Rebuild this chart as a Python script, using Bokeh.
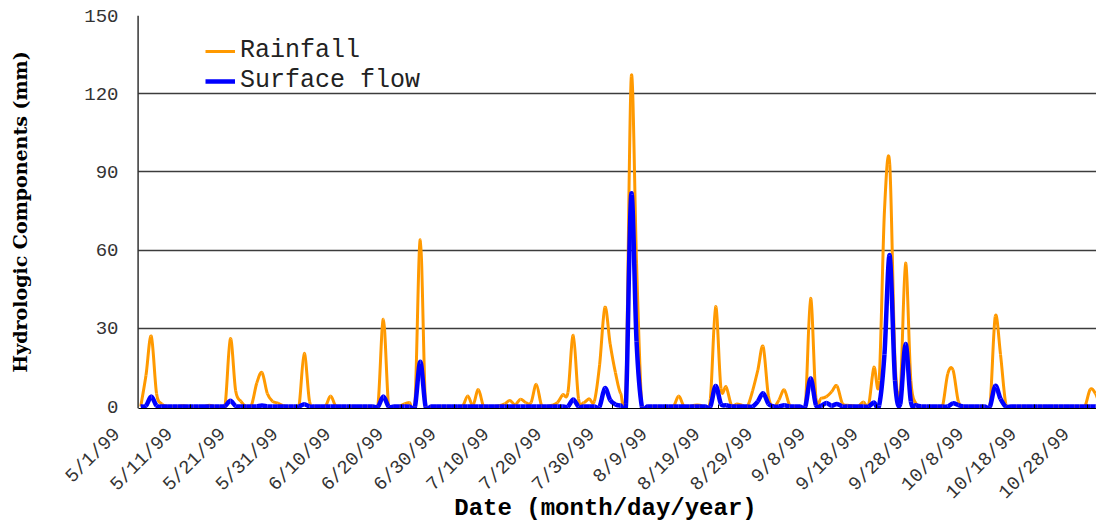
import numpy as np
from math import pi
from bokeh.plotting import figure
from bokeh.models import (LinearAxis, FixedTicker, Range1d, Legend, LegendItem,
                          ColumnDataSource, Span, Grid)
from bokeh.embed import file_html
from bokeh.resources import INLINE

# Daily series, 5/1/99 .. 10/31/99 (one row = 10 days)
rainfall = [
    0, 12, 27, 5, 1, 0, 0, 0, 0.3, 0,
    0, 0, 0, 0.5, 0, 0, 0.5, 26, 6, 2,
    0, 0.5, 9, 13, 5, 2, 1.3, 0.3, 0, 0,
    0, 20.4, 2, 0, 0, 0, 4, 0, 0, 0,
    0, 0, 0, 0, 0, 1, 33.5, 0, 0, 0,
    1, 1.5, 1.5, 64, 0, 0, 0, 0, 0, 0,
    0, 0, 4, 0.5, 6.5, 0, 0, 0, 0.3, 1,
    2.3, 0.7, 2.8, 1.5, 1.5, 8.5, 0.3, 0, 0.5, 1.5,
    4.5, 5.5, 27.3, 3, 1.5, 3, 2, 16, 38, 24,
    13, 5, 8, 126.5, 55, 0, 0, 0, 0, 0,
    0, 0, 4, 0, 0, 0.5, 0.5, 0, 3, 38.3,
    7, 7.5, 0.5, 1, 0.5, 0, 6, 14, 23, 4,
    0, 2.5, 6.4, 0.6, 0, 0, 0, 41.5, 3.5, 3.2,
    3.8, 5.7, 7.9, 1.3, 0.5, 0.3, 0, 1.7, 0.6, 15,
    10, 75, 93, 18, 6, 55, 10, 1, 0, 0,
    0, 0, 0, 12.5, 14, 2, 0, 0, 0, 0,
    0, 0, 34.5, 20, 1, 0, 0, 0, 0, 0,
    0, 0, 0, 0, 0, 0, 0, 0, 0, 0,
    6.5, 5, 0, 0,
]

surface_flow = [
    0, 0.3, 3.8, 0.3, 0, 0, 0, 0, 0, 0,
    0, 0, 0, 0, 0, 0, 0.2, 2.2, 0.2, 0,
    0, 0, 0, 0.4, 0, 0, 0, 0, 0, 0,
    0, 0.9, 0, 0, 0, 0, 0, 0, 0, 0,
    0, 0, 0, 0, 0, 0, 3.8, 0, 0, 0,
    0, 0, 0, 17.2, 0, 0, 0, 0, 0, 0,
    0, 0, 0, 0, 0, 0, 0, 0, 0, 0,
    0, 0, 0, 0, 0, 0, 0, 0, 0, 0,
    0, 0, 2.7, 0, 0, 0, 0, 0, 7, 2.5,
    0.8, 0.4, 1, 81.5, 25, 0, 0, 0, 0, 0,
    0, 0, 0, 0, 0, 0, 0, 0, 0, 7.9,
    1, 0.5, 0, 0, 0, 0, 0, 2, 5.1, 1,
    0, 0, 0.5, 0, 0, 0, 0, 10.8, 0.6, 0.3,
    1.3, 0.3, 1, 0, 0, 0, 0, 0, 0, 1.5,
    0.5, 20, 58, 10, 1, 24, 2, 0.5, 0, 0,
    0, 0, 0, 0, 1.2, 0.5, 0, 0, 0, 0,
    0, 0, 7.9, 3, 0, 0, 0, 0, 0, 0,
    0, 0, 0, 0, 0, 0, 0, 0, 0, 0,
    0, 0, 0, 0,
]

# Date labels, one every 10 days starting 5/1/99
tick_labels = ["5/1/99", "5/11/99", "5/21/99", "5/31/99", "6/10/99", "6/20/99",
               "6/30/99", "7/10/99", "7/20/99", "7/30/99", "8/9/99", "8/19/99",
               "8/29/99", "9/8/99", "9/18/99", "9/28/99", "10/8/99", "10/18/99",
               "10/28/99"]
y_ticks = [0, 30, 60, 90, 120, 150]

day = np.arange(len(rainfall), dtype=float)
first_edge = -0.5          # left edge of the first day's slot (the y axis)
x_end = 181.2
x_start = -4.97            # room left of the axis for the first date label


def smooth_segments(x, y):
    """Cubic Bezier pieces through every point (Catmull-Rom style smoothing)."""
    y = np.asarray(y, dtype=float)
    xp = np.concatenate([[x[0]], x, [x[-1]]])
    yp = np.concatenate([[y[0]], y, [y[-1]]])
    x0, y0 = xp[1:-2], yp[1:-2]
    x1, y1 = xp[2:-1], yp[2:-1]
    cx0 = x0 + (xp[2:-1] - xp[:-3]) / 6
    cy0 = y0 + (yp[2:-1] - yp[:-3]) / 6
    cx1 = x1 - (xp[3:] - xp[1:-2]) / 6
    cy1 = y1 - (yp[3:] - yp[1:-2]) / 6
    return ColumnDataSource(dict(x0=x0, y0=y0, x1=x1, y1=y1,
                                 cx0=cx0, cy0=cy0, cx1=cx1, cy1=cy1))


p = figure(width=1096, height=524, output_backend="svg", toolbar_location=None,
           x_range=Range1d(x_start, x_end), y_range=Range1d(-0.765, 150),
           x_axis_type=None,
           min_border_left=114, min_border_right=0, min_border_top=15,
           min_border_bottom=115)
p.outline_line_color = None
p.background_fill_color = "white"
p.border_fill_color = "white"

# y axis: labels pulled in next to the value axis line
p.yaxis.ticker = FixedTicker(ticks=y_ticks)
p.yaxis.axis_line_color = None
p.yaxis.major_tick_line_color = None
p.yaxis.major_tick_in = 0
p.yaxis.major_tick_out = 0
p.yaxis.minor_tick_line_color = None
p.yaxis.major_label_standoff = -4
p.yaxis.major_label_text_font = "Liberation Mono"
p.yaxis.major_label_text_font_size = "19px"
p.yaxis.major_label_text_color = "#333333"
p.yaxis.axis_label = "Hydrologic Components (mm)"
p.yaxis.axis_label_text_font = "DejaVu Serif"
p.yaxis.axis_label_text_font_style = "bold"
p.yaxis.axis_label_text_font_size = "19px"
p.yaxis.axis_label_text_color = "black"
p.yaxis.axis_label_standoff = 50

p.add_layout(Span(location=first_edge, dimension="height", line_color="black",
                  line_width=1.2))

# horizontal grid, starting at the value axis
p.xgrid.grid_line_color = None
if "cross_bounds" in Grid.properties():
    p.ygrid.ticker = FixedTicker(ticks=y_ticks[1:])
    p.ygrid.grid_line_color = "#3c3c3c"
    p.ygrid.grid_line_width = 1.5
    p.ygrid.cross_bounds = (first_edge, x_end)
else:
    p.ygrid.grid_line_color = None
    grid_y = y_ticks[1:]
    p.segment(x0=[first_edge] * len(grid_y), x1=[x_end] * len(grid_y),
              y0=grid_y, y1=grid_y, line_color="#3c3c3c", line_width=1.5,
              level="underlay")

# x axis line with tick marks between every 10th day
label_days = [10 * k for k in range(len(tick_labels))]
boundary_ticks = [d - 0.5 for d in label_days[1:]]
x_axis = LinearAxis(ticker=FixedTicker(ticks=[], minor_ticks=boundary_ticks),
                    bounds=(first_edge, x_end),
                    axis_line_color="black", axis_line_width=1.2,
                    major_tick_line_color=None, major_tick_in=0,
                    major_tick_out=0, minor_tick_line_color="black",
                    minor_tick_in=4, minor_tick_out=0, major_label_standoff=0)
p.add_layout(x_axis, "below")

# rotated date labels; their anchors sit a few days left of each date
label_shift = 4.44
p.extra_x_ranges = {"dates": Range1d(x_start + label_shift, x_end + label_shift)}
date_axis = LinearAxis(x_range_name="dates",
                       ticker=FixedTicker(ticks=label_days),
                       axis_line_color=None, major_tick_line_color=None,
                       major_tick_in=0, major_tick_out=0,
                       minor_tick_line_color=None,
                       major_label_overrides={d: t for d, t in zip(label_days, tick_labels)},
                       major_label_orientation=pi / 4,
                       major_label_standoff=23,
                       major_label_text_font="Liberation Mono",
                       major_label_text_font_size="19px",
                       major_label_text_color="#333333",
                       axis_label="Date (month/day/year)",
                       axis_label_text_font="Liberation Mono",
                       axis_label_text_font_style="bold",
                       axis_label_text_font_size="24px",
                       axis_label_text_color="black",
                       axis_label_standoff=-20)
p.add_layout(date_axis, "below")

r_rain = p.bezier(source=smooth_segments(day, rainfall), x0="x0", y0="y0",
                  x1="x1", y1="y1", cx0="cx0", cy0="cy0", cx1="cx1", cy1="cy1",
                  line_color="#ff9900", line_width=3)
r_flow = p.bezier(source=smooth_segments(day, surface_flow), x0="x0", y0="y0",
                  x1="x1", y1="y1", cx0="cx0", cy0="cy0", cx1="cx1", cy1="cy1",
                  line_color="#0000ff", line_width=4.5)

legend = Legend(items=[LegendItem(label="Rainfall", renderers=[r_rain]),
                       LegendItem(label="Surface flow", renderers=[r_flow])],
                location=(91, 313), orientation="vertical",
                border_line_color=None, background_fill_alpha=0,
                label_text_font="Liberation Mono", label_text_font_size="25px",
                label_text_color="#222222", glyph_width=30, glyph_height=24,
                label_height=24, spacing=1, padding=0, margin=0,
                label_standoff=5)
p.add_layout(legend)

open("out.html", "w").write(file_html(p, INLINE))
